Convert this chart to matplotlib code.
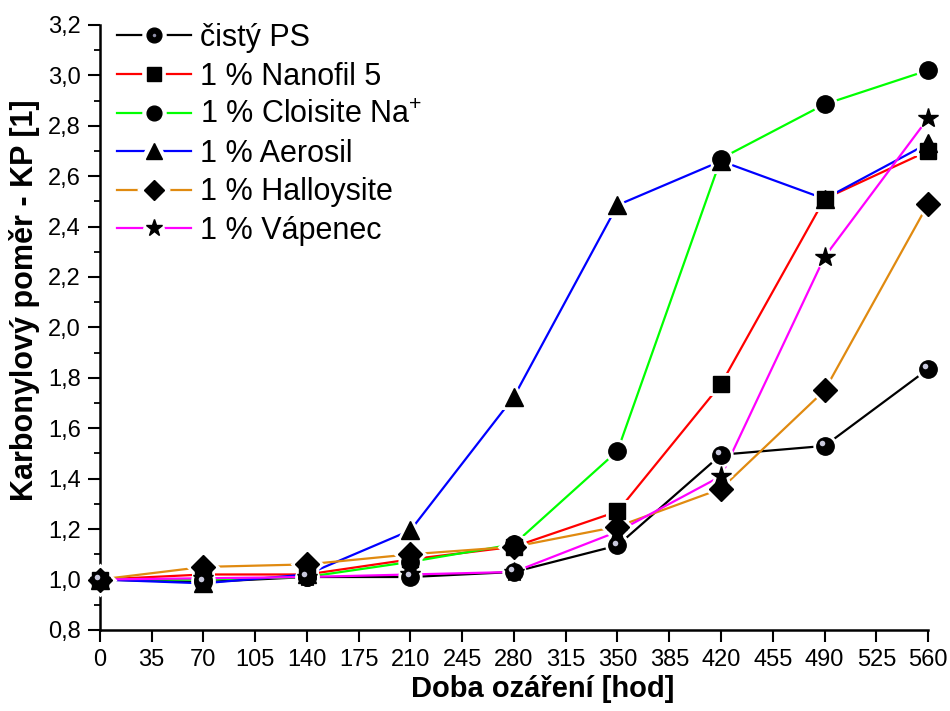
import matplotlib
matplotlib.use("Agg")
import matplotlib.pyplot as plt
import numpy as np
from matplotlib.ticker import MultipleLocator, FuncFormatter
from matplotlib.legend_handler import HandlerTuple
from matplotlib.lines import Line2D
from matplotlib.transforms import offset_copy

plt.rcParams["font.family"] = ["Liberation Sans", "DejaVu Sans"]
plt.rcParams["mathtext.fontset"] = "custom"
plt.rcParams["mathtext.rm"] = "Liberation Sans"

hours = [0, 70, 140, 210, 280, 350, 420, 490, 560]

pure_ps = [1.00, 0.99, 1.01, 1.01, 1.03, 1.135, 1.495, 1.53, 1.835]
nanofil = [1.00, 1.02, 1.02, 1.08, 1.13, 1.27, 1.775, 2.51, 2.70]
cloisite = [1.00, 1.00, 1.01, 1.07, 1.14, 1.51, 2.67, 2.885, 3.02]
aerosil = [1.00, 0.985, 1.02, 1.195, 1.725, 2.485, 2.66, 2.51, 2.73]
halloysite = [1.00, 1.05, 1.06, 1.10, 1.13, 1.21, 1.36, 1.75, 2.49]
vapenec = [1.00, 1.005, 1.01, 1.02, 1.03, 1.19, 1.41, 2.28, 2.83]

labels = ["čistý PS", "1 % Nanofil 5", "1 % Cloisite Na$^{+}$",
          "1 % Aerosil", "1 % Halloysite", "1 % Vápenec"]
series = [pure_ps, nanofil, cloisite, aerosil, halloysite, vapenec]
colors = ["black", "#FF0000", "#00FF00", "#0000FF", "#E08A10", "#FF00FF"]
markers = ["o", "s", "o", "^", "D", "*"]
msizes = [12.5, 12, 12.5, 13, 12, 15]

fig = plt.figure(figsize=(9.5, 7.11), dpi=100)
ax = fig.add_axes([0.105, 0.114, 0.872, 0.851])

# lines, then white halos (small gaps at the markers), then black markers
for vals, c in zip(series, colors):
    ax.plot(hours, vals, color=c, lw=1.6, zorder=2, clip_on=False)
for vals, m, ms in zip(series, markers, msizes):
    ax.plot(hours, vals, ls="none", marker=m, ms=ms, mfc="white", mec="white",
            mew=5, zorder=3, clip_on=False)
for vals, m, ms in zip(series, markers, msizes):
    ax.plot(hours, vals, ls="none", marker=m, ms=ms, color="black", zorder=4,
            clip_on=False)

# shine on the "sphere" markers of pure PS
shine_tr = offset_copy(ax.transData, fig=fig, x=-2, y=2, units="points")
ax.plot(hours, pure_ps, ls="none", marker="o", ms=4, color="#c8c8dc",
        mec="none", transform=shine_tr, zorder=5, clip_on=False)

handles = []
for c, m, ms in zip(colors, markers, msizes):
    line = Line2D([], [], color=c, lw=1.6)
    halo = Line2D([], [], ls="none", marker=m, ms=ms * 0.85, mfc="white",
                  mec="white", mew=7)
    mark = Line2D([], [], ls="none", marker=m, ms=ms * 0.85, color="black")
    handles.append((line, halo, mark))
shine = Line2D([], [], ls="none", marker="o", ms=2.5, color="#9090a8", mec="none")
handles[0] = handles[0] + (shine,)

ax.legend(handles, labels, loc="upper left", frameon=False, fontsize=22,
          handlelength=2.4, handletextpad=0.3, labelspacing=0.28,
          borderaxespad=0.0, borderpad=0.3, bbox_to_anchor=(0.01, 1.018),
          handler_map={tuple: HandlerTuple(ndivide=1, pad=0)})

ax.set_xlim(0, 560)
ax.set_ylim(0.8, 3.2)
ax.xaxis.set_major_locator(MultipleLocator(35))
ax.yaxis.set_major_locator(MultipleLocator(0.2))
ax.yaxis.set_minor_locator(MultipleLocator(0.1))
ax.yaxis.set_major_formatter(FuncFormatter(lambda v, p: f"{v:.1f}".replace(".", ",")))

ax.spines["top"].set_visible(False)
ax.spines["right"].set_visible(False)
ax.spines["left"].set_linewidth(1.8)
ax.spines["bottom"].set_linewidth(1.8)
ax.tick_params(which="major", direction="out", length=8.5, width=1.5,
               labelsize=17, pad=5)
ax.tick_params(which="minor", direction="out", length=4.5, width=1.3)

ax.set_xlabel("Doba ozáření [hod]", fontsize=21, fontweight="bold")
ax.set_ylabel("Karbonylový poměr - KP [1]", fontsize=22, fontweight="bold")
ax.xaxis.set_label_coords(0.535, -0.074)
ax.yaxis.set_label_coords(-0.072, 0.545)

fig.savefig("out.png", dpi=100)
